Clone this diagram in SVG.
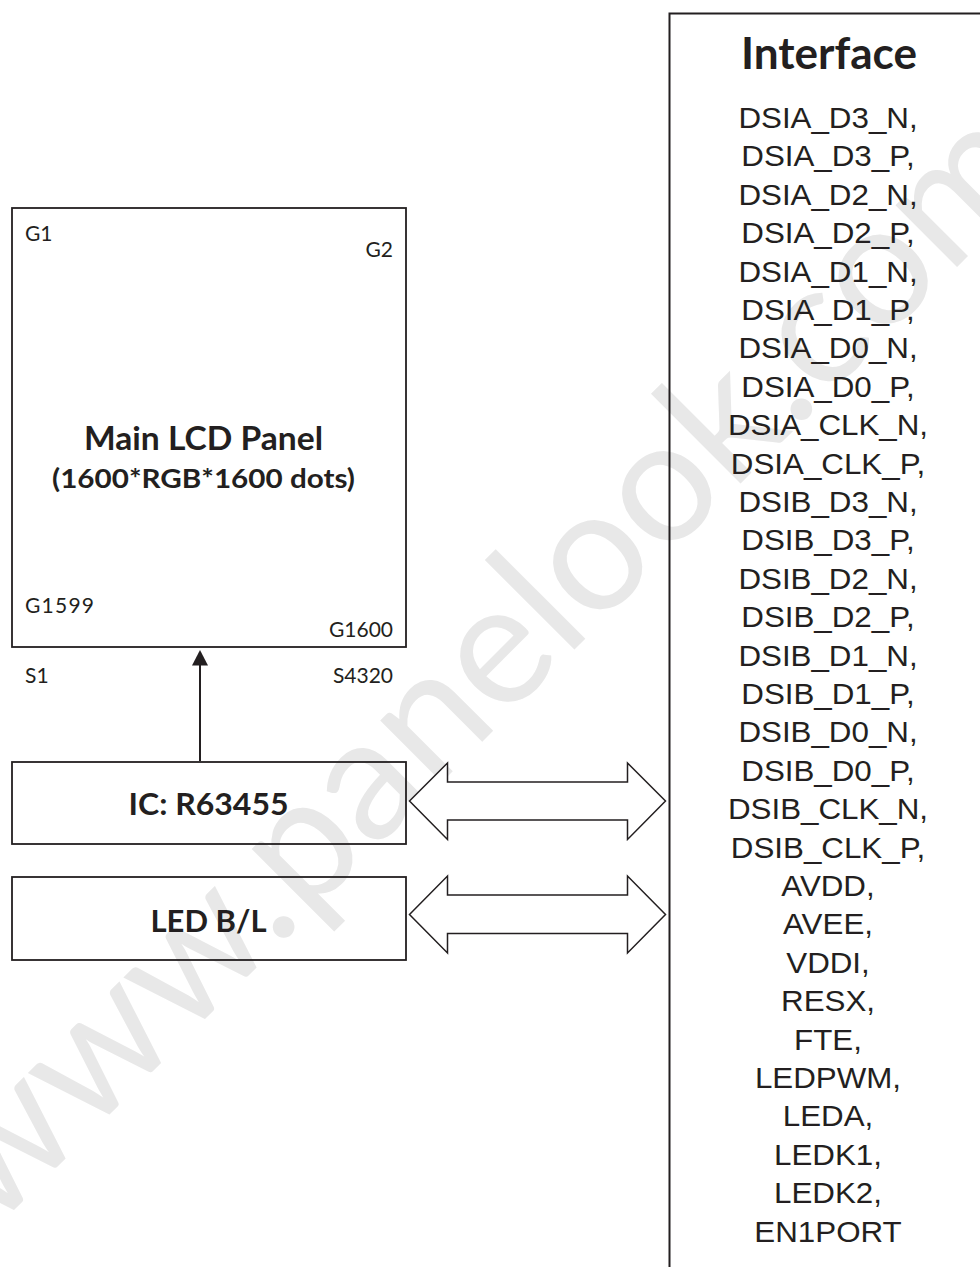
<svg xmlns="http://www.w3.org/2000/svg" width="980" height="1267" viewBox="0 0 980 1267">
<style>
.box{fill:none;stroke:#231f20;stroke-width:1.8}
.dbl{fill:#fff;stroke:#231f20;stroke-width:1.5;stroke-linejoin:miter}
.cal{font-family:Lato,"Open Sans","Liberation Sans",sans-serif;fill:#231f20}
.b{font-weight:bold}
.pin{font-family:"Liberation Sans",Arial,sans-serif;font-size:29px;fill:#231f20;text-anchor:middle}
.wm{font-family:Lato,"Open Sans",sans-serif;font-size:172px;fill:#e8e8e8}
</style>
<rect width="980" height="1267" fill="#fff"/>
<text class="wm" transform="translate(-8,1232) rotate(-45)">www.panelook.com</text>

<g id="panel">
<rect class="box" x="12" y="208" width="394" height="439"/>
<text class="cal" font-size="21" x="25" y="241">G1</text>
<text class="cal" font-size="21" x="393" y="257" text-anchor="end">G2</text>
<text class="cal b" font-size="32" x="203.5" y="450" text-anchor="middle" textLength="239" lengthAdjust="spacingAndGlyphs">Main LCD Panel</text>
<text class="cal b" font-size="27" x="203.5" y="488" text-anchor="middle" textLength="303" lengthAdjust="spacingAndGlyphs">(1600*RGB*1600 dots)</text>
<text class="cal" font-size="21" x="25" y="613" textLength="69">G1599</text>
<text class="cal" font-size="21" x="393" y="637" text-anchor="end">G1600</text>
<text class="cal" font-size="21" x="25" y="683">S1</text>
<text class="cal" font-size="21" x="393" y="683" text-anchor="end">S4320</text>
</g>

<g id="ic">
<rect class="box" x="12" y="762" width="394" height="82"/>
<text class="cal b" font-size="31" x="208.5" y="815" text-anchor="middle" textLength="160" lengthAdjust="spacingAndGlyphs">IC: R63455</text>
</g>

<g id="led">
<rect class="box" x="12" y="877" width="394" height="83"/>
<text class="cal b" font-size="31" x="208.5" y="932" text-anchor="middle" textLength="116" lengthAdjust="spacingAndGlyphs">LED B/L</text>
</g>

<g id="interface">
<path d="M669.5,1267 V13.5 H980" fill="none" stroke="#231f20" stroke-width="2"/>
<text class="cal b" font-size="43" x="829" y="69" text-anchor="middle" textLength="176" lengthAdjust="spacingAndGlyphs">Interface</text>
<g transform="translate(828,0) scale(1.08,1)">
<text class="pin" x="0" y="128">DSIA_D3_N,</text>
<text class="pin" x="0" y="166.4">DSIA_D3_P,</text>
<text class="pin" x="0" y="204.8">DSIA_D2_N,</text>
<text class="pin" x="0" y="243.2">DSIA_D2_P,</text>
<text class="pin" x="0" y="281.6">DSIA_D1_N,</text>
<text class="pin" x="0" y="320">DSIA_D1_P,</text>
<text class="pin" x="0" y="358.4">DSIA_D0_N,</text>
<text class="pin" x="0" y="396.8">DSIA_D0_P,</text>
<text class="pin" x="0" y="435.2">DSIA_CLK_N,</text>
<text class="pin" x="0" y="473.6">DSIA_CLK_P,</text>
<text class="pin" x="0" y="512">DSIB_D3_N,</text>
<text class="pin" x="0" y="550.4">DSIB_D3_P,</text>
<text class="pin" x="0" y="588.8">DSIB_D2_N,</text>
<text class="pin" x="0" y="627.2">DSIB_D2_P,</text>
<text class="pin" x="0" y="665.6">DSIB_D1_N,</text>
<text class="pin" x="0" y="704">DSIB_D1_P,</text>
<text class="pin" x="0" y="742.4">DSIB_D0_N,</text>
<text class="pin" x="0" y="780.8">DSIB_D0_P,</text>
<text class="pin" x="0" y="819.2">DSIB_CLK_N,</text>
<text class="pin" x="0" y="857.6">DSIB_CLK_P,</text>
<text class="pin" x="0" y="896">AVDD,</text>
<text class="pin" x="0" y="934.4">AVEE,</text>
<text class="pin" x="0" y="972.8">VDDI,</text>
<text class="pin" x="0" y="1011.2">RESX,</text>
<text class="pin" x="0" y="1049.6">FTE,</text>
<text class="pin" x="0" y="1088">LEDPWM,</text>
<text class="pin" x="0" y="1126.4">LEDA,</text>
<text class="pin" x="0" y="1164.8">LEDK1,</text>
<text class="pin" x="0" y="1203.2">LEDK2,</text>
<text class="pin" x="0" y="1241.6">EN1PORT</text>
</g>
</g>

<g id="connectors">
<line x1="200" y1="761" x2="200" y2="664" stroke="#231f20" stroke-width="2"/>
<polygon points="200,650 192,665.5 208,665.5" fill="#231f20"/>
<polygon class="dbl" points="409.5,801 447.5,763 447.5,782 627.5,782 627.5,763 665.5,801 627.5,839.5 627.5,820 447.5,820 447.5,839.5"/>
<polygon class="dbl" points="409.5,914.5 447.5,876 447.5,895 627.5,895 627.5,876 665.5,914.5 627.5,953 627.5,933.5 447.5,933.5 447.5,953"/>
</g>
</svg>
